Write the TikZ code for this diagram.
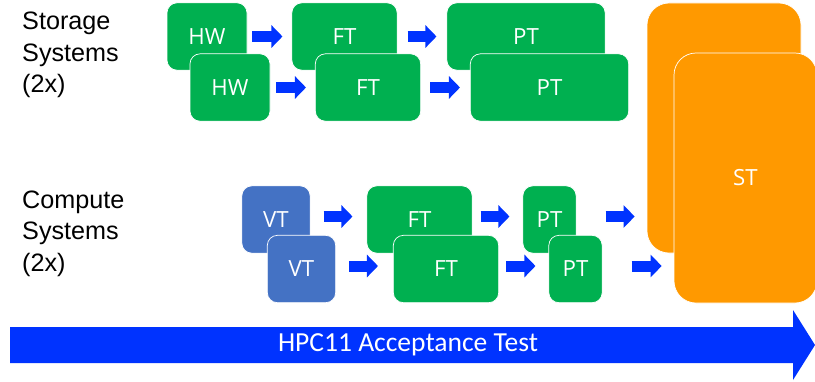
\documentclass[tikz,border=0pt]{standalone}
\usepackage{fontspec}
\setmainfont{Liberation Sans}
\newfontfamily\boxfont{Open Sans}
\newfontfamily\barfont{Carlito}
\usepackage{xcolor}
\usepackage{tikz}
\usetikzlibrary{arrows.meta,positioning,calc}
\definecolor{tgreen}{HTML}{00B050}
\definecolor{tblue}{HTML}{4472C4}
\definecolor{torange}{HTML}{FF9900}
\definecolor{tarrow}{HTML}{0033FF}

\begin{document}
\begin{tikzpicture}[x=0.03cm,y=-0.03cm,
  bx/.style={draw=white,line width=0.6pt,rounded corners=0.3cm,inner sep=0pt,
    minimum height=2.02cm,text=white,font=\boxfont\fontsize{19}{22}\selectfont},
  g/.style={bx,fill=tgreen},
  v/.style={bx,fill=tblue,minimum width=2.05cm},
  st/.style={bx,fill=torange,rounded corners=0.66cm,minimum height=7.5cm},
  flow/.style 2 args={draw=tarrow,line width=0.33cm,
    -{Triangle[length=0.33cm,width=0.66cm]},shorten <=#1,shorten >=#2},
  lbl/.style={align=left,anchor=west,inner sep=0pt,font=\fontsize{21.5}{26.8}\selectfont}]
  \useasboundingbox (0,0) rectangle (815,381);
  % left labels
  \node[lbl](slbl) at (22,55){Storage\\Systems\\(2x)};
  \node[lbl](clbl) at (22,233.5){Compute\\Systems\\(2x)};
  % ST boxes
  \node[st,minimum width=4.62cm](st1) at (724,128){};
  \node[st,minimum width=4.29cm](st2) at (745.5,178){ST};
  % storage systems
  \node[g,minimum width=2.4cm](hw1) at (207,36.5){HW};
  \node[g,minimum width=3.16cm](ft1) at (344.5,36.5){FT};
  \node[g,minimum width=4.75cm](pt1) at (526,36.5){PT};
  \node[g,minimum width=2.4cm](hw2) at (230,87.5){HW};
  \node[g,minimum width=3.16cm](ft2) at (368,87.5){FT};
  \node[g,minimum width=4.75cm](pt2) at (549.5,87.5){PT};
  \draw[flow={0.15cm}{0.27cm}](hw1)--(ft1);
  \draw[flow={0.3cm}{0.3cm}](ft1)--(pt1);
  \draw[flow={0.18cm}{0.27cm}](hw2)--(ft2);
  \draw[flow={0.27cm}{0.3cm}](ft2)--(pt2);
  % compute systems
  \node[v](vt1) at (276,219.5){VT};
  \node[g,minimum width=3.16cm](cft1) at (419.5,219.5){FT};
  \node[g,minimum width=1.6cm](cpt1) at (549.5,219.5){PT};
  \node[v](vt2) at (301.5,269){VT};
  \node[g,minimum width=3.16cm](cft2) at (446,269){FT};
  \node[g,minimum width=1.6cm](cpt2) at (575.5,269){PT};
  \draw[flow={0.39cm}{0.42cm}]([yshift=0.09cm]vt1.east)--([yshift=0.09cm]cft1.west);
  \draw[flow={0.24cm}{0.39cm}]([yshift=0.09cm]cft1.east)--([yshift=0.09cm]cpt1.west);
  \draw[flow={0.87cm}{0.36cm}]([yshift=0.09cm]cpt1.east)--([yshift=0.09cm]cpt1.east-|st1.west);
  \draw[flow={0.39cm}{0.45cm}]([yshift=0.09cm]vt2.east)--([yshift=0.09cm]cft2.west);
  \draw[flow={0.21cm}{0.39cm}]([yshift=0.09cm]cft2.east)--([yshift=0.09cm]cpt2.west);
  \draw[flow={0.87cm}{0.36cm}]([yshift=0.09cm]cpt2.east)--([yshift=0.09cm]cpt2.east-|st2.west);
  % acceptance test bar
  \fill[tarrow](10,327)--(793,327)--(793,310)--(815,345)--(793,380)--(793,363)--(10,363)--cycle;
  \node[text=white,font=\barfont\fontsize{23.5}{28}\selectfont](hpc) at (408,345){HPC11 Acceptance Test};
\end{tikzpicture}
\end{document}
